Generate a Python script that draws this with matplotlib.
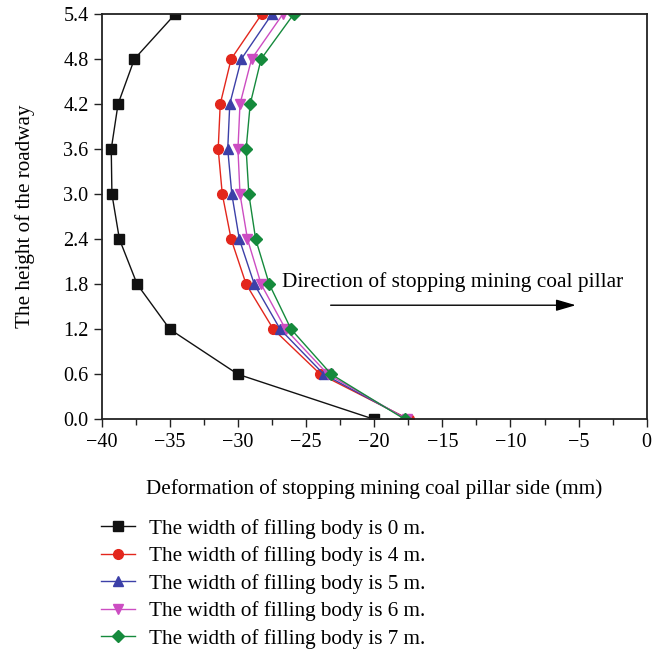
import numpy as np
import matplotlib
matplotlib.use("Agg")
import matplotlib.pyplot as plt

plt.rcParams["font.family"] = ["Liberation Serif", "DejaVu Serif"]

height = [0.0, 0.6, 1.2, 1.8, 2.4, 3.0, 3.6, 4.2, 4.8, 5.4]

w0 = [-20.0, -30.0, -35.0, -37.4, -38.7, -39.25, -39.3, -38.8, -37.6, -34.6]
w4 = [-17.45, -23.95, -27.4, -29.4, -30.5, -31.15, -31.45, -31.3, -30.5, -28.25]
w5 = [-17.55, -23.7, -26.9, -28.8, -29.9, -30.45, -30.75, -30.6, -29.75, -27.5]
w6 = [-17.6, -23.4, -26.5, -28.3, -29.3, -29.85, -30.0, -29.85, -29.0, -26.7]
w7 = [-17.75, -23.15, -26.1, -27.7, -28.7, -29.2, -29.4, -29.1, -28.3, -25.9]

labels = ["The width of filling body is 0 m.",
          "The width of filling body is 4 m.",
          "The width of filling body is 5 m.",
          "The width of filling body is 6 m.",
          "The width of filling body is 7 m."]

fig = plt.figure(figsize=(6.63, 6.5), dpi=100)
ax = fig.add_axes([0.1534, 0.3549, 0.8220, 0.6236])

series = [w0, w4, w5, w6, w7]
colors = ["#111111", "#e3261c", "#3c40a8", "#cc4dc2", "#158a3c"]
markers = ["s", "o", "^", "v", "D"]
msizes = [6.5, 7, 7, 7, 6]
for vals, c, m, ms, lab in zip(series, colors, markers, msizes, labels):
    ax.plot(vals, height, color=c, marker=m, markersize=ms, linewidth=1.0,
            markeredgecolor=c, label=lab)

ax.set_xlim(-40, 0)
ax.set_ylim(0, 5.4)
ax.set_xticks(np.arange(-40, 1, 5))
ax.set_xticks(np.arange(-37.5, 0, 5), minor=True)
ax.set_yticks(height)
ax.set_xticklabels(["\u2212" + str(abs(v)) if v != 0 else "0" for v in range(-40, 1, 5)])
ax.set_yticklabels([f"{h:.1f}" for h in height])
ax.tick_params(axis="both", which="both", direction="out", labelsize=14.5,
               top=False, right=False, width=1.0, color="#222222")
ax.tick_params(axis="both", which="major", length=6)
ax.tick_params(axis="x", which="minor", length=4)
for s in ax.spines.values():
    s.set_linewidth(1.3)
    s.set_color("#222222")

ax.set_xlabel("Deformation of stopping mining coal pillar side (mm)", fontsize=15.2, labelpad=20)
ax.set_ylabel("The height of the roadway", fontsize=15.2, labelpad=20)

ax.text(-26.8, 1.83, "Direction of stopping mining coal pillar", fontsize=15.4,
        va="center", ha="left")
ax.annotate("", xy=(-5.0, 1.52), xytext=(-23.4, 1.52),
            arrowprops=dict(arrowstyle="-|>,head_length=1.2,head_width=0.35",
                            color="black", lw=1.0))

fig.legend(loc="upper left", bbox_to_anchor=(0.139, 0.215), frameon=False,
           fontsize=15.2, handlelength=1.65, handletextpad=0.65, labelspacing=0.36,
           borderaxespad=0)

fig.savefig("out.png", dpi=100)
